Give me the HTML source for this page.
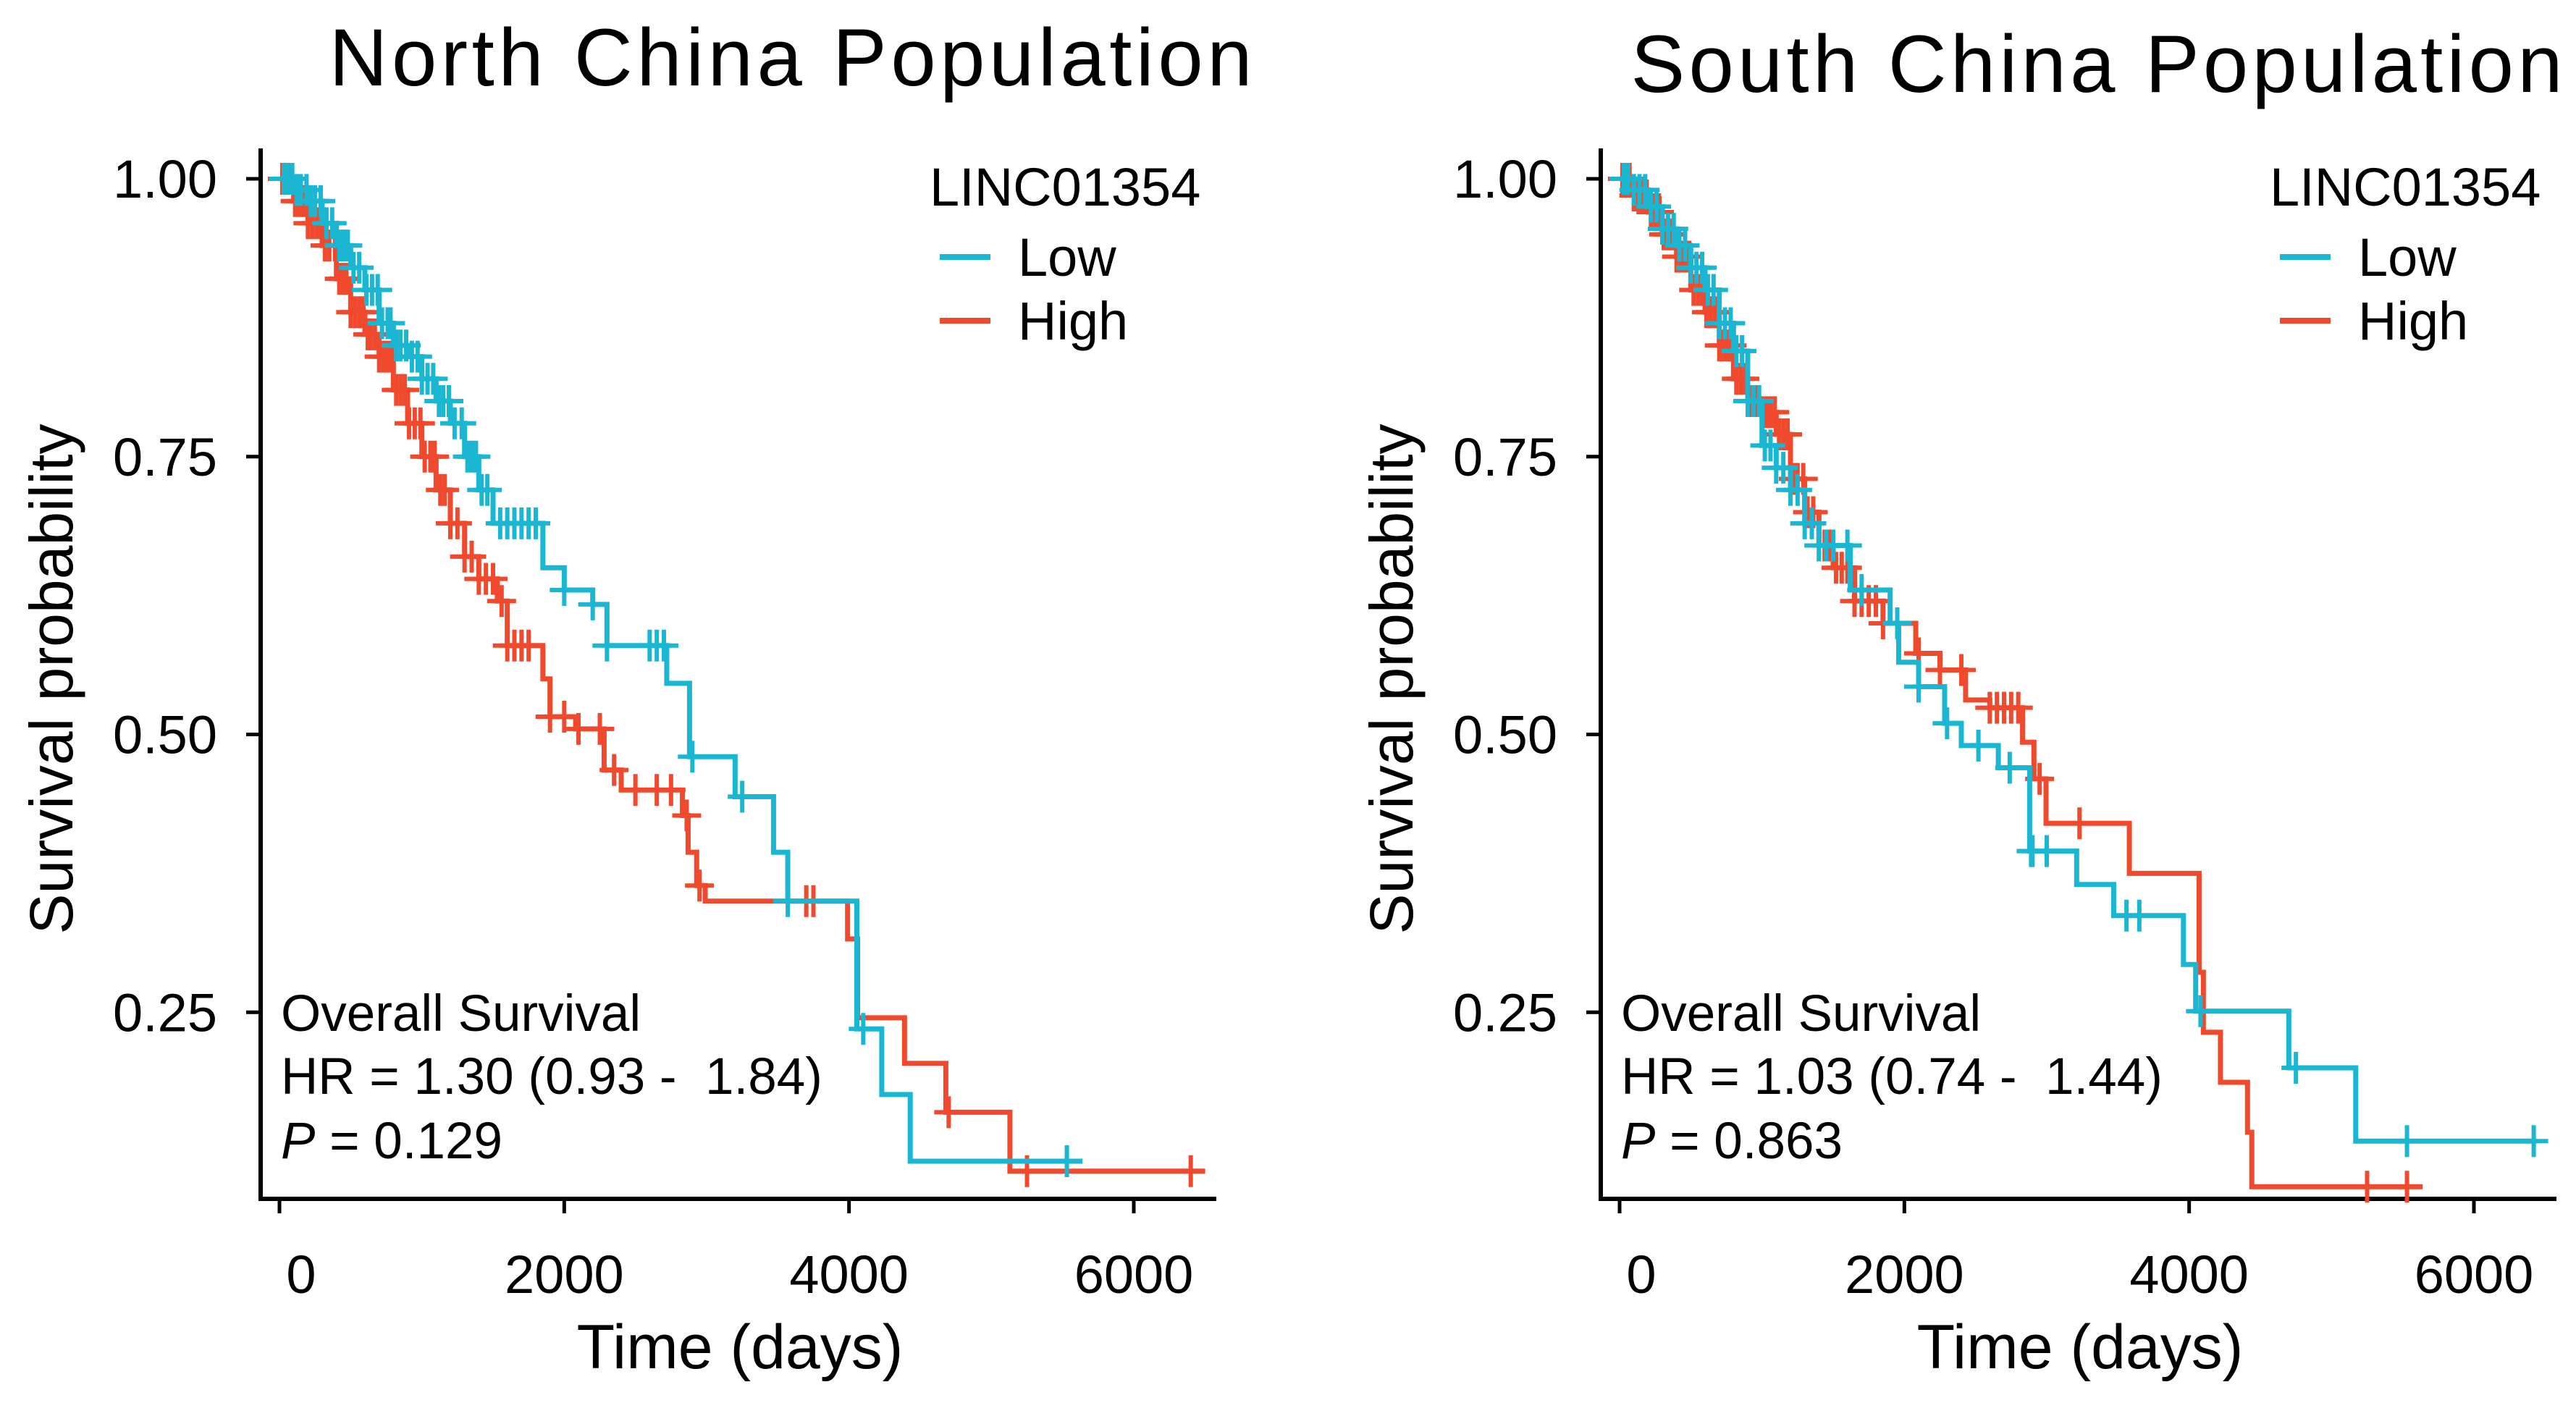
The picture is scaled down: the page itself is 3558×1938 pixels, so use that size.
<!DOCTYPE html>
<html><head><meta charset="utf-8"><style>
html,body{margin:0;padding:0;background:#fff;}
svg{display:block;font-family:"Liberation Sans",Arial,sans-serif;}
</style></head><body>
<svg id="chart" width="3558" height="1938" viewBox="0 0 3558 1938" xmlns="http://www.w3.org/2000/svg">
<text x="1092" y="118" font-size="112" text-anchor="middle" textLength="1275">North China Population</text>
<text x="2896" y="127" font-size="112" text-anchor="middle" textLength="1287">South China Population</text>
<g id="left"></g>
<g id="right"></g>
</svg>
<script>
// ---- North China data ----
const nLowT = [100,200,300,400,500,600,700,800,900,1000,1100,1200,1300,1400,1500,1850,2000,2200,2300,2720,2880,3200,3470,3570,4055,4230,4430];
const nLowS = [0.99,0.98,0.96,0.94,0.92,0.90,0.87,0.85,0.84,0.82,0.80,0.78,0.75,0.72,0.69,0.65,0.63,0.617,0.58,0.546,0.48,0.444,0.394,0.35,0.235,0.176,0.116];
const nLowEnd = 5640;
const nLowC = [30,60,90,120,150,190,220,250,290,330,370,420,450,480,520,560,610,650,690,720,760,780,820,850,890,930,970,1000,1040,1080,1120,1150,1190,1230,1280,1320,1350,1380,1420,1460,1550,1600,1650,1700,1750,1800,2000,2200,2300,2600,2650,2700,2900,3250,3570,4100,5530];
const nHighT = [100,200,300,400,500,600,700,800,900,1000,1100,1200,1300,1400,1530,1600,1850,1900,2080,2280,2400,2830,2870,2930,2990,3990,4060,4390,4680,5130];
const nHighS = [0.98,0.96,0.94,0.91,0.88,0.86,0.84,0.81,0.78,0.75,0.72,0.69,0.66,0.64,0.62,0.58,0.55,0.516,0.505,0.468,0.45,0.427,0.394,0.364,0.35,0.316,0.245,0.204,0.16,0.107];
const nHighEnd = 6500;
const nHighC = [20,40,70,110,140,170,200,230,260,290,320,350,390,420,450,470,500,530,560,590,620,640,670,700,730,760,790,820,850,880,910,950,990,1020,1060,1090,1130,1160,1200,1250,1300,1350,1400,1450,1500,1560,1600,1650,1700,1750,1900,2000,2100,2250,2350,2500,2650,2750,2860,2950,3700,3750,4700,5250,6400];
// ---- South China data ----
const sLowT = [100,200,300,400,500,600,700,800,900,1000,1100,1200,1300,1400,1620,1900,1960,2100,2283,2400,2660,2880,3210,3470,3960,4046,4700,5170];
const sLowS = [0.99,0.975,0.955,0.94,0.92,0.90,0.87,0.845,0.80,0.76,0.74,0.72,0.69,0.67,0.63,0.60,0.565,0.543,0.51,0.49,0.47,0.395,0.365,0.337,0.293,0.251,0.20,0.134];
const sLowEnd = 6440;
const sLowC = [30,60,100,140,180,220,260,300,340,380,420,460,500,540,580,620,660,700,740,780,820,860,900,940,980,1020,1060,1100,1150,1200,1250,1300,1350,1400,1450,1500,1600,1700,1950,2100,2300,2520,2740,2890,2900,3000,3560,3650,4080,4750,5530,6420];
const sHighT = [100,200,300,400,500,600,700,800,900,1000,1100,1200,1300,1400,1500,1650,1850,2080,2250,2430,2600,2830,2910,2995,3580,4070,4100,4220,4410,4440];
const sHighS = [0.985,0.97,0.95,0.93,0.90,0.88,0.85,0.82,0.80,0.79,0.77,0.73,0.70,0.67,0.65,0.62,0.60,0.573,0.558,0.531,0.524,0.493,0.46,0.42,0.375,0.286,0.232,0.187,0.142,0.093];
const sHighEnd = 5640;
const sHighC = [20,40,70,100,130,160,190,220,250,280,310,340,370,400,430,460,490,520,550,580,610,640,670,700,730,760,790,820,850,880,910,940,970,1000,1030,1060,1090,1120,1150,1180,1220,1250,1290,1320,1360,1400,1440,1480,1520,1560,1600,1650,1700,1750,1800,1850,1950,2100,2250,2400,2600,2650,2700,2750,2800,2950,3230,5250,5530];
const yTicks = [1.00,0.75,0.50,0.25];
const yTickLabels = ["1.00","0.75","0.50","0.25"];
const xTicks = [0,2000,4000,6000];
const xTickLabels = ["0","2000","4000","6000"];

const NS = "http://www.w3.org/2000/svg";
const BLUE = "#1bb6d2", RED = "#f04a2e";
function mk(parent, tag, attrs, text){
  const e = document.createElementNS(NS, tag);
  for (const k in attrs) e.setAttribute(k, attrs[k]);
  if (text !== undefined) e.textContent = text;
  parent.appendChild(e);
  return e;
}
function stepAt(T, S, t){ let s = 1; for (let i=0;i<T.length;i++){ if (T[i] <= t) s = S[i]; } return s; }

function panel(g, ox, lowT, lowS, lowEnd, lowC, highT, highS, highEnd, highC, hr, p, nm){
  const x0 = ox + 26, xs = 1180/6000;
  const X = t => x0 + t*xs;
  const Y = s => 247 + (1-s)*1535;
  const axL = ox;
  const ya = mk(g,'line',{x1:axL,y1:205,x2:axL,y2:1656,stroke:'#000','stroke-width':6});
  
  
  const xa = mk(g,'line',{x1:axL-3,y1:1656,x2:ox+1320,y2:1656,stroke:'#000','stroke-width':6});
  
  
  yTicks.forEach((v,i)=>{
    const tk = mk(g,'line',{x1:axL-20,y1:Y(v),x2:axL,y2:Y(v),stroke:'#000','stroke-width':5});
    
    
    const lb = mk(g,'text',{x:axL-60,y:Y(v)+26,'font-size':74,'text-anchor':'end'}, yTickLabels[i]);
    
    
  });
  xTicks.forEach((v,i)=>{
    const tk = mk(g,'line',{x1:X(v),y1:1656,x2:X(v),y2:1676,stroke:'#000','stroke-width':5});
    
    
    const lb = mk(g,'text',{x:X(v)+(v===0?30:0),y:1786,'font-size':74,'text-anchor':'middle'}, xTickLabels[i]);
    
    
  });
  const xt = mk(g,'text',{x:ox+662,y:1890,'font-size':86,'text-anchor':'middle'}, 'Time (days)');
  
  
  const yt = mk(g,'text',{x:0,y:0,'font-size':84,'text-anchor':'middle',transform:`translate(${ox-260},938) rotate(-90)`}, 'Survival probability');
  
  
  function curve(T,S,end,C,col,name){
    let d = `M${X(0)},${Y(1)}`;
    for (let i=0;i<T.length;i++){ d += ` H${X(T[i])} V${Y(S[i])}`; }
    d += ` H${X(end)}`;
    const pth = mk(g,'path',{d:d,fill:'none',stroke:col,'stroke-width':7});
    
    
    C.forEach(t=>{
      const cx = X(t), cy = Y(stepAt(T,S,t));
      const m = mk(g,'path',{d:`M${cx-20},${cy} H${cx+20} M${cx},${cy-22} V${cy+22}`,stroke:col,'stroke-width':6,fill:'none'});
      
      
    });
  }
  curve(highT,highS,highEnd,highC,RED,'high');
  curve(lowT,lowS,lowEnd,lowC,BLUE,'low');
  const lx = ox + 924;
  const lt = mk(g,'text',{x:lx,y:284,'font-size':74}, 'LINC01354');
  
  
  const l1 = mk(g,'line',{x1:lx+14,y1:355,x2:lx+84,y2:355,stroke:BLUE,'stroke-width':8});
  
  
  const t1 = mk(g,'text',{x:lx+122,y:381,'font-size':74}, 'Low');
  
  
  const l2 = mk(g,'line',{x1:lx+14,y1:443,x2:lx+84,y2:443,stroke:RED,'stroke-width':8});
  
  
  const t2 = mk(g,'text',{x:lx+122,y:469,'font-size':74}, 'High');
  
  
  const a1 = mk(g,'text',{x:ox+28,y:1424,'font-size':71}, 'Overall Survival');
  
  
  const a2 = mk(g,'text',{x:ox+28,y:1511,'font-size':71,style:'white-space:pre'}, hr);
  
  
  const a3 = mk(g,'text',{x:ox+28,y:1600,'font-size':71});
  
  
  mk(a3,'tspan',{'font-style':'italic'}, 'P');
  mk(a3,'tspan',{}, ' = ' + p);
}
panel(document.getElementById('left'), 360, nLowT,nLowS,nLowEnd,nLowC, nHighT,nHighS,nHighEnd,nHighC, 'HR = 1.30 (0.93 -  1.84)', '0.129','north');
panel(document.getElementById('right'), 2211, sLowT,sLowS,sLowEnd,sLowC, sHighT,sHighS,sHighEnd,sHighC, 'HR = 1.03 (0.74 -  1.44)', '0.863','south');
</script>
</body></html>
